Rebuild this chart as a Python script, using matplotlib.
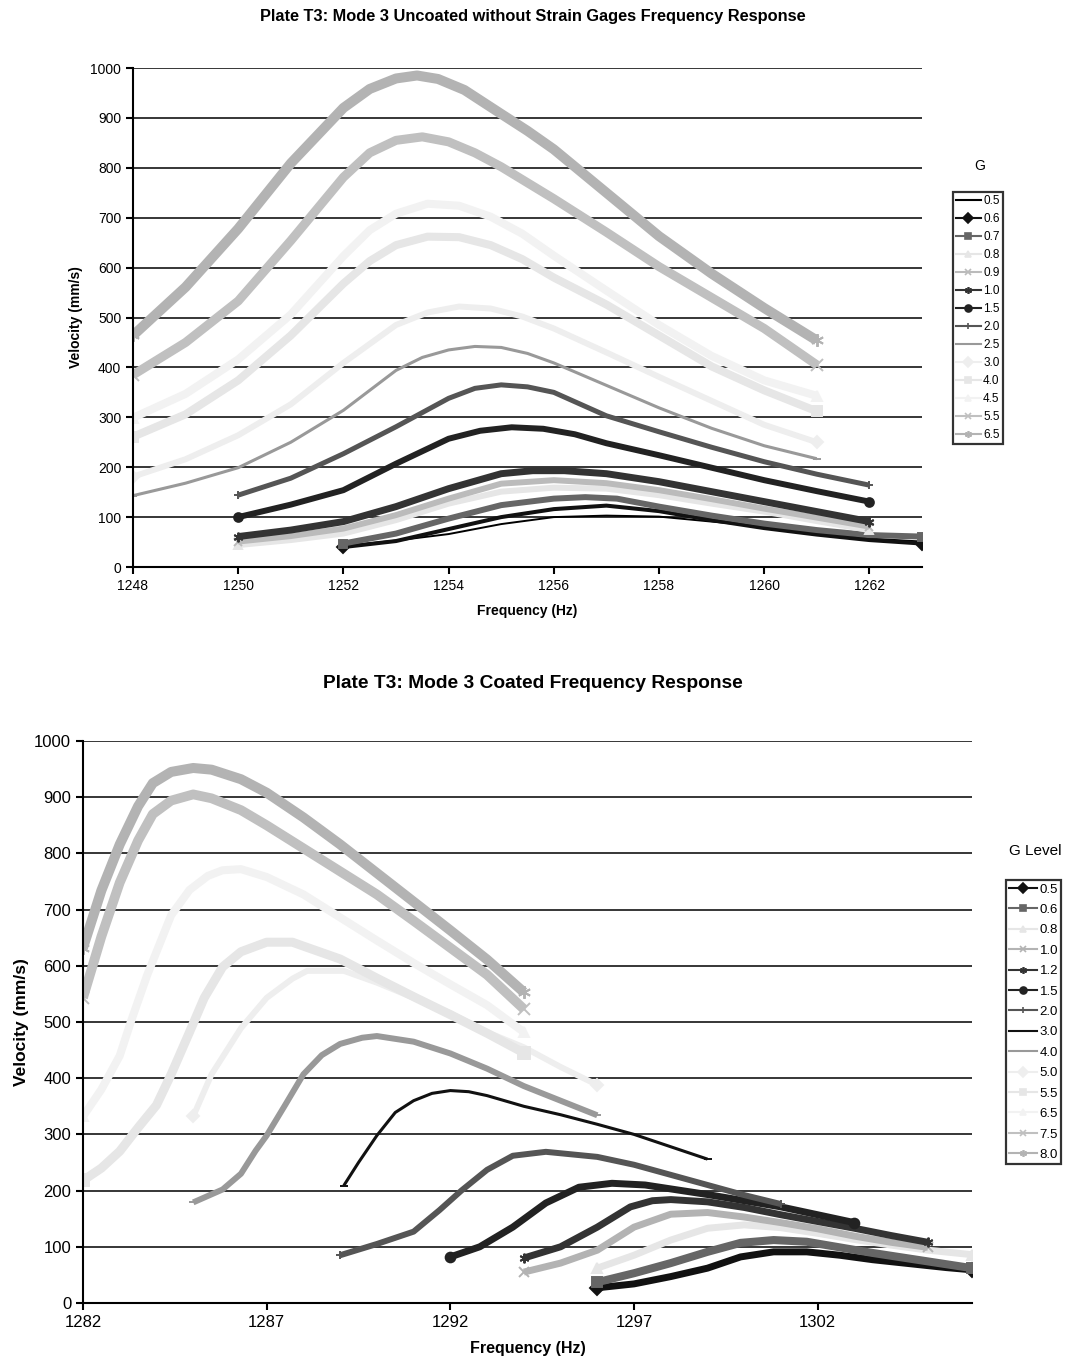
import matplotlib
matplotlib.use("Agg")
import matplotlib.pyplot as plt
from matplotlib.lines import Line2D

plt.rcParams['font.family'] = ['Liberation Sans', 'DejaVu Sans']

# ---------------- top chart: uncoated, no strain gages ----------------
top_labels = ['0.5', '0.6', '0.7', '0.8', '0.9', '1.0', '1.5',
              '2.0', '2.5', '3.0', '4.0', '4.5', '5.5', '6.5']

t_f05 = [1252, 1253, 1254, 1255, 1256, 1257, 1258, 1259, 1260, 1261, 1262, 1263]
t_v05 = [42, 53, 66, 86, 100, 103, 101, 91, 81, 69, 57, 51]
t_f06 = [1252, 1253, 1254, 1255, 1256, 1257, 1258, 1259, 1260, 1261, 1262, 1263]
t_v06 = [40, 52, 76, 100, 116, 123, 112, 94, 78, 65, 54, 47]
t_f07 = [1252, 1253, 1254, 1255, 1256, 1256.6, 1257.2, 1258, 1259, 1260, 1261, 1262, 1263]
t_v07 = [47, 67, 97, 124, 137, 140, 137, 121, 103, 87, 74, 64, 61]
t_f08 = [1250, 1251, 1252, 1253, 1254, 1255, 1256, 1257, 1258, 1259, 1260, 1261, 1262]
t_v08 = [44, 54, 67, 94, 127, 151, 159, 157, 144, 127, 111, 92, 74]
t_f09 = [1250, 1251, 1252, 1253, 1254, 1255, 1256, 1257, 1258, 1259, 1260, 1261, 1262]
t_v09 = [51, 62, 77, 104, 137, 167, 174, 168, 154, 136, 117, 99, 81]
t_f10 = [1250, 1251, 1252, 1253, 1254, 1255, 1255.6, 1256.2, 1257, 1258, 1259, 1260, 1261, 1262]
t_v10 = [61, 74, 91, 121, 157, 187, 193, 193, 187, 171, 151, 131, 111, 91]
t_f15 = [1250, 1251, 1252, 1253, 1254, 1254.6, 1255.2, 1255.8, 1256.4, 1257, 1258, 1259, 1260, 1261, 1262]
t_v15 = [100, 125, 154, 207, 257, 273, 280, 277, 266, 248, 224, 199, 174, 152, 131]
t_f20 = [1250, 1251, 1252, 1253, 1254, 1254.5, 1255, 1255.5, 1256, 1257, 1258, 1259, 1260, 1261, 1262]
t_v20 = [144, 178, 227, 281, 338, 358, 365, 361, 350, 303, 271, 240, 211, 186, 164]
t_f25 = [1248, 1249, 1250, 1251, 1252, 1253, 1253.5, 1254, 1254.5, 1255, 1255.5, 1256, 1257, 1258, 1259, 1260, 1261]
t_v25 = [143, 168, 199, 250, 314, 394, 420, 435, 442, 440, 428, 409, 364, 319, 278, 243, 217]
t_f30 = [1248, 1249, 1250, 1251, 1252, 1253, 1253.6, 1254.2, 1254.8, 1255.4, 1256, 1257, 1258, 1259, 1260, 1261]
t_v30 = [181, 216, 264, 326, 409, 485, 510, 522, 518, 502, 478, 430, 381, 333, 285, 250]
t_f40 = [1248, 1249, 1250, 1251, 1252, 1252.5, 1253, 1253.6, 1254.2, 1254.8, 1255.4, 1256, 1257, 1258, 1259, 1260, 1261]
t_v40 = [261, 306, 374, 464, 568, 613, 645, 662, 661, 645, 617, 580, 526, 464, 402, 354, 312]
t_f45 = [1248, 1249, 1250, 1251, 1252, 1252.5, 1253, 1253.6, 1254.2, 1254.8, 1255.4, 1256, 1257, 1258, 1259, 1260, 1261]
t_v45 = [299, 347, 416, 506, 623, 675, 708, 728, 724, 702, 668, 624, 554, 485, 423, 374, 343]
t_f55 = [1248, 1249, 1250, 1251, 1252, 1252.5, 1253, 1253.5, 1254, 1254.5, 1255, 1256, 1257, 1258, 1259, 1260, 1261]
t_v55 = [385, 450, 533, 654, 781, 830, 855, 862, 852, 830, 802, 738, 671, 602, 540, 478, 405]
t_f65 = [1248, 1249, 1250, 1251, 1252, 1252.5, 1253, 1253.4, 1253.8, 1254.3, 1255, 1255.5, 1256, 1257, 1258, 1259, 1260, 1261]
t_v65 = [464, 561, 678, 809, 920, 958, 979, 985, 978, 956, 908, 874, 837, 750, 663, 588, 519, 454]

top_freqs = [t_f05, t_f06, t_f07, t_f08, t_f09, t_f10, t_f15,
             t_f20, t_f25, t_f30, t_f40, t_f45, t_f55, t_f65]
top_vels = [t_v05, t_v06, t_v07, t_v08, t_v09, t_v10, t_v15,
            t_v20, t_v25, t_v30, t_v40, t_v45, t_v55, t_v65]

STAR = (6, 2, 0)
top_colors = ['#000000', '#111111', '#666666', '#e6e6e6', '#bbbbbb', '#333333', '#222222',
              '#555555', '#999999', '#eeeeee', '#e6e6e6', '#f2f2f2', '#c0c0c0', '#b3b3b3']
top_markers = ['_', 'D', 's', '^', 'x', STAR, 'o', '+', '_', 'D', 's', '^', 'x', STAR]
top_widths = [1.4, 2.9, 4.3, 4.3, 4.3, 5.0, 4.3, 3.6, 2.2, 4.3, 5.8, 5.8, 6.5, 7.2]

# ---------------- bottom chart: coated ----------------
bot_labels = ['0.5', '0.6', '0.8', '1.0', '1.2', '1.5', '2.0',
              '3.0', '4.0', '5.0', '5.5', '6.5', '7.5', '8.0']

b_f05 = [1296, 1297, 1298, 1299, 1299.9, 1300.8, 1301.7, 1302.6, 1303.5, 1304.5, 1305.5, 1306.2]
b_v05 = [27, 34, 47, 62, 82, 91, 91, 85, 77, 70, 63, 59]
b_f06 = [1296, 1297, 1298, 1299, 1299.9, 1300.8, 1301.7, 1302.6, 1303.5, 1304.5, 1305.5, 1306.2]
b_v06 = [37, 53, 71, 91, 107, 112, 109, 99, 89, 79, 69, 62]
b_f08 = [1296, 1297, 1298, 1299, 1300, 1301, 1302, 1303, 1304, 1305, 1306.2]
b_v08 = [62, 85, 112, 133, 139, 134, 124, 113, 103, 94, 86]
b_f10 = [1294, 1295, 1296, 1297, 1298, 1299, 1300, 1301, 1302, 1303, 1304, 1305]
b_v10 = [55, 71, 94, 135, 158, 161, 153, 143, 132, 119, 108, 99]
b_f12 = [1294, 1295, 1296, 1296.9, 1297.5, 1298, 1299, 1300, 1301, 1302, 1303, 1304, 1305]
b_v12 = [80, 100, 135, 171, 182, 184, 180, 170, 157, 145, 133, 120, 108]
b_f15 = [1292, 1292.8, 1293.7, 1294.6, 1295.5, 1296.4, 1297.3, 1298, 1299, 1300, 1301, 1302, 1303]
b_v15 = [82, 100, 135, 178, 206, 213, 210, 203, 193, 182, 171, 157, 143]
b_f20 = [1289, 1290, 1291, 1291.7, 1292.3, 1293, 1293.7, 1294.6, 1296, 1297, 1298, 1299, 1300, 1301]
b_v20 = [85, 105, 127, 165, 200, 237, 262, 269, 260, 246, 228, 210, 192, 176]
b_f30 = [1289.1, 1289.5, 1290, 1290.5, 1291, 1291.5, 1292, 1292.5, 1293, 1294, 1295, 1296, 1297, 1298, 1299]
b_v30 = [209, 250, 298, 339, 360, 373, 378, 376, 369, 350, 335, 318, 300, 278, 256]
b_f40 = [1285, 1285.8, 1286.3, 1286.7, 1287, 1287.5, 1288, 1288.5, 1289, 1289.6, 1290, 1291, 1292, 1293, 1294, 1295, 1296]
b_v40 = [179, 202, 230, 271, 298, 352, 407, 441, 461, 472, 475, 465, 444, 417, 386, 360, 334]
b_f50 = [1285, 1285.5, 1286.3, 1287, 1287.7, 1288.1, 1289.1, 1290, 1291, 1292, 1293, 1294, 1295, 1296]
b_v50 = [332, 407, 489, 543, 577, 591, 591, 570, 543, 516, 482, 455, 420, 388]
b_f55 = [1282, 1282.5, 1283, 1283.5, 1284, 1284.4, 1284.9, 1285.3, 1285.8, 1286.3, 1287, 1287.7,
         1288, 1289, 1290, 1291, 1292, 1293, 1294]
b_v55 = [218, 240, 270, 312, 352, 407, 482, 543, 598, 625, 642, 642, 635, 612, 578, 545, 513, 480, 445]
b_f65 = [1282, 1282.5, 1283, 1283.3, 1283.75, 1284.4, 1284.9, 1285.4, 1285.8, 1286.3, 1287,
         1288, 1289, 1290, 1291, 1292, 1293, 1294]
b_v65 = [332, 380, 440, 500, 584, 690, 735, 760, 770, 772, 758, 727, 686, 645, 605, 567, 530, 482]
b_f75 = [1282, 1282.5, 1283, 1283.5, 1283.9, 1284.4, 1285, 1285.5, 1286.3, 1287, 1288, 1289,
         1290, 1291, 1292, 1293, 1294]
b_v75 = [543, 652, 748, 823, 870, 894, 905, 898, 877, 850, 809, 768, 727, 680, 632, 584, 523]
b_f80 = [1282, 1282.5, 1283, 1283.5, 1283.9, 1284.4, 1285, 1285.5, 1286.3, 1287, 1288, 1289,
         1290, 1291, 1292, 1293, 1294]
b_v80 = [632, 734, 816, 884, 925, 945, 952, 949, 932, 908, 864, 816, 765, 714, 663, 611, 553]

bot_freqs = [b_f05, b_f06, b_f08, b_f10, b_f12, b_f15, b_f20,
             b_f30, b_f40, b_f50, b_f55, b_f65, b_f75, b_f80]
bot_vels = [b_v05, b_v06, b_v08, b_v10, b_v12, b_v15, b_v20,
            b_v30, b_v40, b_v50, b_v55, b_v65, b_v75, b_v80]

bot_colors = ['#111111', '#666666', '#e6e6e6', '#b3b3b3', '#333333', '#222222', '#555555',
              '#111111', '#999999', '#eeeeee', '#e6e6e6', '#f2f2f2', '#c0c0c0', '#b3b3b3']
bot_markers = ['D', 's', '^', 'x', STAR, 'o', '+', '_', '_', 'D', 's', '^', 'x', STAR]
bot_widths = [5.0, 5.8, 5.0, 5.0, 5.0, 5.0, 4.3, 2.2, 4.3, 4.3, 6.5, 5.8, 7.0, 7.2]


fig = plt.figure(figsize=(10.67, 13.67), dpi=100)
W, H = 1067, 1367


def px_axes(l, t, r, b):
    return fig.add_axes([l / W, 1 - b / H, (r - l) / W, (b - t) / H])


def style_axes(ax, tick_size):
    for s in ['top', 'right']:
        ax.spines[s].set_visible(False)
    for s in ['left', 'bottom']:
        ax.spines[s].set_linewidth(1.5)
        ax.spines[s].set_color('black')
    ax.yaxis.grid(True, color='black', linewidth=1.1)
    ax.set_axisbelow(True)
    ax.tick_params(direction='out', length=5, width=1.5, labelsize=tick_size)
    ax.set_ylim(0, 1000)
    ax.set_yticks(range(0, 1001, 100))


def draw(ax, freqs, vels, colors, markers, widths):
    for f, v, c, m, w in zip(freqs, vels, colors, markers, widths):
        ax.plot(f, v, color=c, lw=w, solid_joinstyle='round', solid_capstyle='butt',
                marker=m, markevery=[0, len(f) - 1], ms=max(w + 2, 6), mec=c, mfc=c, mew=1.4)


def legend(handles_src, labels, x, y, size, spacing, hlen):
    hs = [Line2D([], [], color=c, lw=1.5, marker=m, ms=5, mec=c, mfc=c, mew=1.2)
          for c, m in handles_src]
    lg = fig.legend(hs, labels, loc='upper left', bbox_to_anchor=(x / W, 1 - y / H),
                    fontsize=size, frameon=True, fancybox=False, edgecolor='black',
                    borderpad=0.25, labelspacing=spacing, handlelength=hlen,
                    handletextpad=0.2, borderaxespad=0)
    lg.get_frame().set_linewidth(1.6)
    return lg


# top chart
ax1 = px_axes(133, 68, 922, 567)
style_axes(ax1, 10)
draw(ax1, top_freqs, top_vels, top_colors, top_markers, top_widths)
ax1.set_xlim(1248, 1263)
ax1.set_xticks(range(1248, 1263, 2))
ax1.set_xlabel('Frequency (Hz)', fontsize=10, fontweight='bold', labelpad=8)
ax1.set_ylabel('Velocity (mm/s)', fontsize=10, fontweight='bold', labelpad=5)
fig.text(533 / W, 1 - 17 / H, 'Plate T3: Mode 3 Uncoated without Strain Gages Frequency Response',
         ha='center', va='center', fontsize=11.8, fontweight='bold')
legend(list(zip(top_colors, top_markers)), top_labels, 953, 192, 8.5, 0.51, 2.1)
fig.text(980 / W, 1 - 166 / H, 'G', ha='center', va='center', fontsize=10)

# bottom chart
ax2 = px_axes(83, 741, 972, 1303)
style_axes(ax2, 12)
draw(ax2, bot_freqs, bot_vels, bot_colors, bot_markers, bot_widths)
ax2.set_xlim(1282, 1306.2)
ax2.set_xticks(range(1282, 1306, 5))
ax2.set_xlabel('Frequency (Hz)', fontsize=11.5, fontweight='bold', labelpad=8)
ax2.set_ylabel('Velocity (mm/s)', fontsize=12.5, fontweight='bold', labelpad=4)
fig.text(533 / W, 1 - 684 / H, 'Plate T3: Mode 3 Coated Frequency Response',
         ha='center', va='center', fontsize=13.8, fontweight='bold')
legend(list(zip(bot_colors, bot_markers)), bot_labels, 1006, 880, 9.5, 0.62, 2.1)
fig.text(1035 / W, 1 - 851 / H, 'G Level', ha='center', va='center', fontsize=11)

fig.savefig('out.png', dpi=100)
